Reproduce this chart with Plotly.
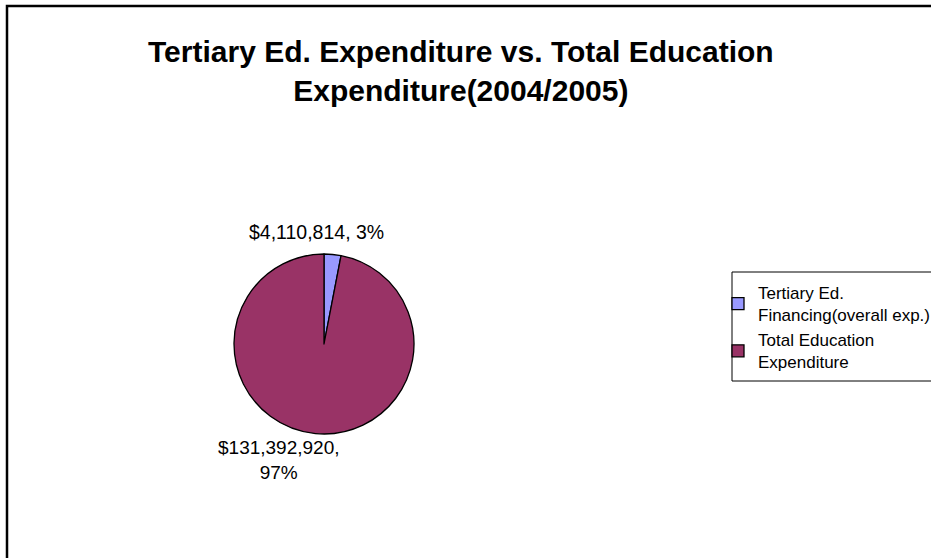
import plotly.graph_objects as go

categories = ["Tertiary Ed.<br>Financing(overall exp.)", "Total Education<br>Expenditure"]
values = [4110814, 131392920]
colors = ["#9999FF", "#993366"]
title_text = "Tertiary Ed. Expenditure vs. Total Education<br>Expenditure(2004/2005)"

W, H = 931, 558
total = sum(values)
pcts = [round(v / total * 100) for v in values]
FONT = "Arial, Liberation Sans, sans-serif"

fig = go.Figure()
fig.add_trace(go.Pie(
    labels=categories,
    values=values,
    sort=False,
    direction="clockwise",
    rotation=0,
    textinfo="none",
    hoverinfo="label+value+percent",
    marker=dict(colors=colors, line=dict(color="black", width=1.3)),
    domain=dict(x=[234 / W, 414 / W], y=[1 - 434 / H, 1 - 254 / H]),
))

# data labels
fig.add_annotation(x=316 / W, y=1 - 232 / H, xref="paper", yref="paper",
                   text=f"${values[0]:,}, {pcts[0]}%", showarrow=False,
                   font=dict(family=FONT, size=19.5, color="black"),
                   xanchor="center", yanchor="middle")
fig.add_annotation(x=279 / W, y=1 - 460 / H, xref="paper", yref="paper",
                   text=f"${values[1]:,},<br>{pcts[1]}%", showarrow=False,
                   font=dict(family=FONT, size=19, color="black"),
                   xanchor="center", yanchor="middle")

# title
fig.add_annotation(x=461 / W, y=1 - 71 / H, xref="paper", yref="paper",
                   text=f"<b>{title_text}</b>", showarrow=False,
                   font=dict(family=FONT, size=30, color="black"),
                   xanchor="center", yanchor="middle")

# chart area border
fig.add_shape(type="rect", xref="paper", yref="paper",
              x0=7 / W, x1=1.05, y0=-0.05, y1=1 - 6 / H,
              line=dict(color="black", width=2.5), fillcolor="rgba(0,0,0,0)")

# legend box
fig.add_shape(type="rect", xref="paper", yref="paper",
              x0=732 / W, x1=1.05, y0=1 - 381 / H, y1=1 - 272 / H,
              line=dict(color="black", width=1), fillcolor="rgba(0,0,0,0)")

fig.update_layout(
    width=W, height=H,
    margin=dict(l=0, r=0, t=0, b=0, autoexpand=False),
    paper_bgcolor="white",
    plot_bgcolor="white",
    showlegend=True,
    legend=dict(
        x=718 / W, y=1 - 275 / H, xanchor="left", yanchor="top",
        borderwidth=0, bgcolor="rgba(0,0,0,0)",
        font=dict(family=FONT, size=17, color="black"),
        tracegroupgap=4,
    ),
)

fig.write_html("out.html",
               config={"displayModeBar": False},
               post_script="document.body.style.margin='0';document.body.style.overflow='hidden';")
